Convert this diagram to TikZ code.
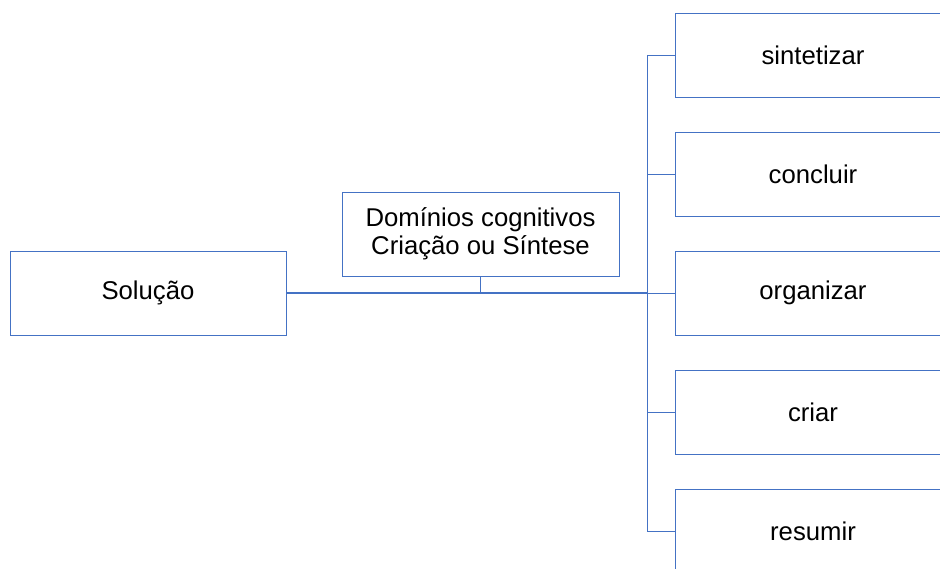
\documentclass[tikz,border=0pt]{standalone}
\usepackage{fontspec}
\setmainfont{Liberation Sans}
\definecolor{boxblue}{HTML}{4472C4}
\tikzset{
	box/.style={draw=boxblue,line width=0.9pt,minimum width=276,minimum height=84,inner sep=0pt,align=center,font=\fontsize{25.7}{28}\selectfont},
	link/.style={draw=boxblue,line width=0.9pt},
}
\begin{document}
	\begin{tikzpicture}[x=1pt,y=1pt]
		\useasboundingbox (0,0) rectangle (940,568);
		\clip (0,0) rectangle (940,568);
		\node [box] (sol) at (148,275) {Solução};
		\node [box,minimum width=277] (dom) at (480.5,334) {Domínios cognitivos\\Criação ou Síntese};
		\node [box] (sin) at (813,513) {sintetizar};
		\node [box] (con) at (813,394) {concluir};
		\node [box] (org) at (813,275) {organizar};
		\node [box] (cri) at (813,155.5) {criar};
		\node [box] (res) at (813,37) {resumir};
		\coordinate (hub) at (647,275);
		\coordinate (top) at (hub |- sin.west);
		\coordinate (bot) at (hub |- res.west);
		\draw [link,line width=1.4pt] (sol.east) to (hub);
		\draw [link,line width=0.7pt] (dom.south) to (dom.south |- sol.east);
		\draw [link] (top) to (bot);
		\draw [link] (top) to (sin.west);
		\draw [link] (hub |- con.west) to (con.west);
		\draw [link] (hub) to (org.west);
		\draw [link] (hub |- cri.west) to (cri.west);
		\draw [link] (bot) to (res.west);
	\end{tikzpicture}
\end{document}
